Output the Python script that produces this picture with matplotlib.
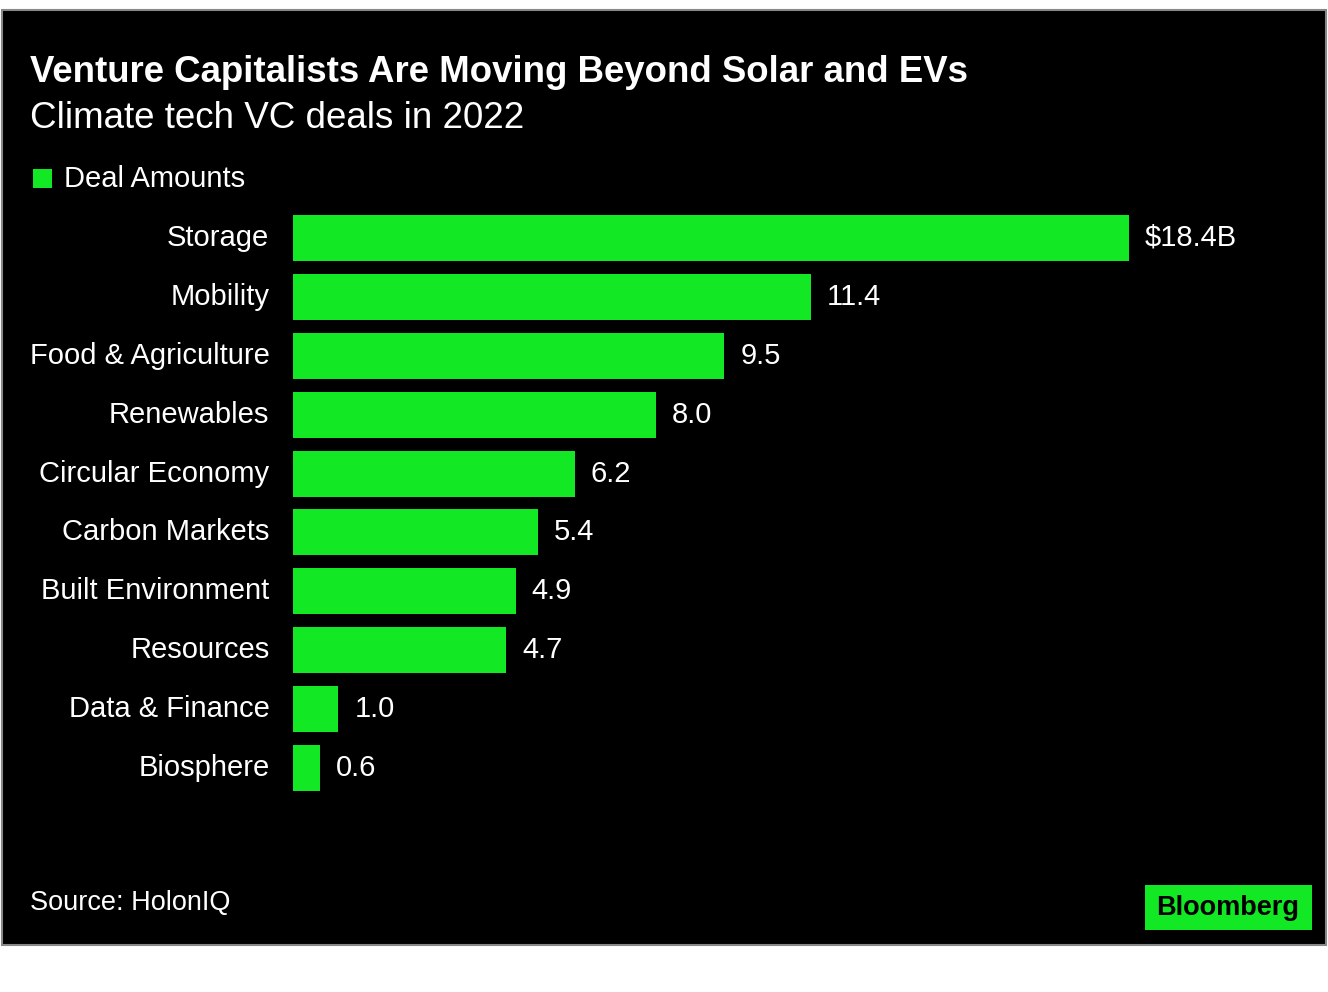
import matplotlib.pyplot as plt
from matplotlib.patches import Rectangle

categories = ["Storage", "Mobility", "Food & Agriculture", "Renewables", "Circular Economy",
              "Carbon Markets", "Built Environment", "Resources", "Data & Finance", "Biosphere"]
values = [18.4, 11.4, 9.5, 8.0, 6.2, 5.4, 4.9, 4.7, 1.0, 0.6]
value_labels = ["$18.4B", "11.4", "9.5", "8.0", "6.2", "5.4", "4.9", "4.7", "1.0", "0.6"]

W, H = 1328, 992
green = "#12e823"
plt.rcParams['font.family'] = ['Liberation Sans', 'DejaVu Sans']

fig = plt.figure(figsize=(W / 100, H / 100), dpi=100)
fig.patch.set_facecolor("white")

# black panel
fig.patches.append(Rectangle((2 / W, 1 - 945 / H), 1324 / W, 935 / H, transform=fig.transFigure,
                             facecolor="black", edgecolor="#888888", lw=1.5, zorder=-5))

ax = fig.add_axes([293 / W, 1 - 797.5 / H, 999 / W, 589 / H])
ax.set_zorder(2)
ax.set_facecolor("none")
ax.barh(range(len(values)), values, height=0.78, color=green)
ax.set_ylim(len(values) - 0.5, -0.5)
ax.set_xlim(0, 22)
ax.set_yticks(range(len(values)))
ax.set_yticklabels(categories, color="white", fontsize=21, va="center")
ax.tick_params(axis="y", length=0, pad=17)
ax.set_xticks([])
for s in ax.spines.values():
    s.set_visible(False)
for i, (v, t) in enumerate(zip(values, value_labels)):
    ax.text(v + 0.35, i, t, color="white", fontsize=21, va="center", ha="left")

fig.text(30 / W, 1 - 73 / H, "Venture Capitalists Are Moving Beyond Solar and EVs",
         color="white", fontsize=26.4, fontweight="bold", va="center")
fig.text(30 / W, 1 - 118 / H, "Climate tech VC deals in 2022", color="white", fontsize=26.5, va="center")
fig.patches.append(Rectangle((33 / W, 1 - 188 / H), 19 / W, 19 / H, transform=fig.transFigure,
                             facecolor=green, edgecolor="none"))
fig.text(64 / W, 1 - 179 / H, "Deal Amounts", color="white", fontsize=21, va="center")
fig.text(30 / W, 1 - 903 / H, "Source: HolonIQ", color="white", fontsize=19.5, va="center")
fig.patches.append(Rectangle((1145 / W, 1 - 930 / H), 167 / W, 45 / H, transform=fig.transFigure,
                             facecolor=green, edgecolor="none"))
fig.text(1228 / W, 1 - 908 / H, "Bloomberg", color="black", fontsize=19.5, fontweight="bold",
         va="center", ha="center")

fig.savefig("out.png", dpi=100)
